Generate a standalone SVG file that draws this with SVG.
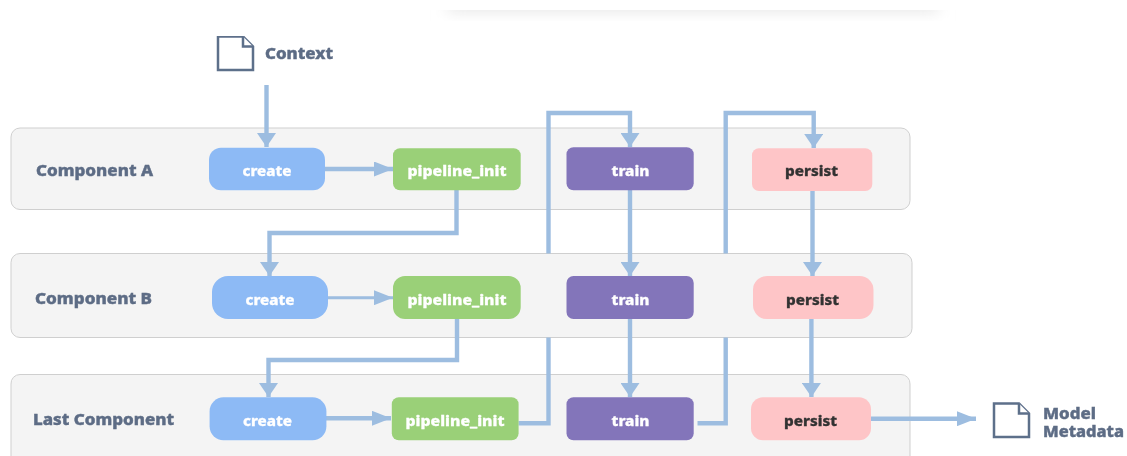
<svg xmlns="http://www.w3.org/2000/svg" width="1127" height="456" viewBox="0 0 1127 456">
<defs>
<marker id="v" markerUnits="userSpaceOnUse" markerWidth="15" markerHeight="19" refX="14" refY="9.500" orient="auto"><path d="M0 0L14 9.500L0 19Z" fill="#9dbde0"/></marker>
<marker id="h" markerUnits="userSpaceOnUse" markerWidth="20" markerHeight="15" refX="19" refY="7.500" orient="auto"><path d="M0 0L19 7.500L0 15Z" fill="#9dbde0"/></marker>
<linearGradient id="sh" x1="0" y1="0" x2="0" y2="1"><stop offset="0" stop-color="#f1f1f1"/><stop offset="1" stop-color="#fff"/></linearGradient>
<filter id="s" x="-10%" y="-20%" width="120%" height="140%"><feGaussianBlur stdDeviation="8 0.500"/></filter>
<filter id="soft" x="0" y="0" width="100%" height="100%"><feGaussianBlur stdDeviation="0.35"/></filter>
</defs>
<style>
.band{fill:#f4f4f4;stroke:#cfcfcf;stroke-width:1}
.c{fill:none;stroke:#9dbde0;stroke-width:4.400}
.t{stroke-width:3}
.e{marker-end:url(#v)}
.f{marker-end:url(#h)}
text{font-family:"Noto Sans","Open Sans","DejaVu Sans",sans-serif;font-weight:800;font-size:14px;text-anchor:middle;paint-order:stroke}
.l{font-size:15px;fill:#5d6c85;stroke:#5d6c85;stroke-width:.4;text-anchor:start}
.w{fill:#fff;stroke:#fff;stroke-width:.3}
.d{fill:#333;stroke:#333;stroke-width:.3}
.blue{fill:#8dbaf5}.green{fill:#9ad078}.purple{fill:#8374ba}.pink{fill:#fec5c7}
.doc{fill:#fff;stroke:#5d6f8a;stroke-width:2.500;stroke-linejoin:miter}
</style>
<rect x="448" y="10" width="490" height="12" fill="url(#sh)" filter="url(#s)"/>
<g filter="url(#soft)">
<g id="bands">
<rect class="band" x="11" y="128" width="899" height="81.500" rx="9"/>
<rect class="band" x="11" y="253.500" width="901" height="84" rx="9"/>
<path class="band" d="M11 458V384a9 9 0 0 1 9-9.500H901a9 9 0 0 1 9 9.500V458"/>
</g>
<g id="connectors">
<path class="c e" d="M266.500 85V147"/>
<path class="c f" d="M325 169H393"/>
<path class="c e" d="M456.500 190V233H269.500V276"/>
<path class="c f t" d="M328 297.700H393"/>
<path class="c e" d="M457 319V360H268.500V397"/>
<path class="c f" d="M326 418.300H391"/>
<path class="c" d="M518.500 423.300H548.500V337.500"/>
<path class="c e" d="M548.500 253.500V113H630V147"/>
<path class="c" d="M697.500 423.300H725.700V337.500"/>
<path class="c e" d="M725.700 253.500V113H813.700V148"/>
<path class="c e" d="M630 190V276"/>
<path class="c e" d="M630 319V397"/>
<path class="c e" d="M812.500 191V276"/>
<path class="c e" d="M811.400 319V397"/>
<path class="c f" d="M871 418.700H976"/>
</g>
<g id="context"><path class="doc" d="M218 36.500H243L253 46.500V70H218Z"/><path class="doc" stroke-width="1.500" d="M243 36.500V46.500H253"/><text class="l" x="265" y="58.700" textLength="68" lengthAdjust="spacingAndGlyphs">Context</text></g>
<g id="label-a"><text class="l" x="36" y="175.500" textLength="117" lengthAdjust="spacingAndGlyphs">Component A</text></g>
<g id="label-b"><text class="l" x="35" y="303.500" textLength="117" lengthAdjust="spacingAndGlyphs">Component B</text></g>
<g id="label-c"><text class="l" x="33" y="424.700" textLength="141" lengthAdjust="spacingAndGlyphs">Last Component</text></g>
<g id="create-a"><rect class="blue" x="209" y="147.700" width="116" height="42.600" rx="12"/><text class="w" x="267" y="175.500" textLength="49" lengthAdjust="spacingAndGlyphs">create</text></g>
<g id="init-a"><rect class="green" x="393" y="148.300" width="127.700" height="42" rx="7"/><text class="w" x="457" y="175.500" textLength="99" lengthAdjust="spacingAndGlyphs">pipeline_init</text></g>
<g id="train-a"><rect class="purple" x="566.500" y="147.300" width="127.200" height="43" rx="7"/><text class="w" x="630.500" y="175.500" textLength="38" lengthAdjust="spacingAndGlyphs">train</text></g>
<g id="persist-a"><rect class="pink" x="752" y="148.300" width="120.300" height="42.700" rx="7"/><text class="d" x="811.500" y="175.500" textLength="53" lengthAdjust="spacingAndGlyphs">persist</text></g>
<g id="create-b"><rect class="blue" x="212" y="276" width="116" height="43" rx="16"/><text class="w" x="270" y="304.500" textLength="49" lengthAdjust="spacingAndGlyphs">create</text></g>
<g id="init-b"><rect class="green" x="393" y="276" width="127.700" height="43" rx="12"/><text class="w" x="457" y="304.500" textLength="99" lengthAdjust="spacingAndGlyphs">pipeline_init</text></g>
<g id="train-b"><rect class="purple" x="566.500" y="276" width="127.200" height="43" rx="7"/><text class="w" x="630.500" y="304.500" textLength="38" lengthAdjust="spacingAndGlyphs">train</text></g>
<g id="persist-b"><rect class="pink" x="753" y="276" width="120.500" height="43" rx="14"/><text class="d" x="812.500" y="304.500" textLength="53" lengthAdjust="spacingAndGlyphs">persist</text></g>
<g id="create-c"><rect class="blue" x="209.600" y="397.300" width="116.800" height="43" rx="14"/><text class="w" x="267.500" y="425.500" textLength="49" lengthAdjust="spacingAndGlyphs">create</text></g>
<g id="init-c"><rect class="green" x="391.800" y="397.300" width="126.800" height="43" rx="7"/><text class="w" x="455" y="425.500" textLength="99" lengthAdjust="spacingAndGlyphs">pipeline_init</text></g>
<g id="train-c"><rect class="purple" x="566.500" y="397.300" width="127.200" height="43" rx="7"/><text class="w" x="630.500" y="425.500" textLength="38" lengthAdjust="spacingAndGlyphs">train</text></g>
<g id="persist-c"><rect class="pink" x="751" y="397.300" width="120" height="43" rx="12"/><text class="d" x="810.500" y="425.500" textLength="53" lengthAdjust="spacingAndGlyphs">persist</text></g>
<g id="metadata"><path class="doc" d="M994 403.500H1019L1029 413.500V437H994Z"/><path class="doc" stroke-width="1.500" d="M1019 403.500V413.500H1029"/><text class="l" x="1043" y="418.700" textLength="53" lengthAdjust="spacingAndGlyphs">Model</text><text class="l" x="1043" y="437" textLength="81" lengthAdjust="spacingAndGlyphs">Metadata</text></g>
</g>
</svg>
